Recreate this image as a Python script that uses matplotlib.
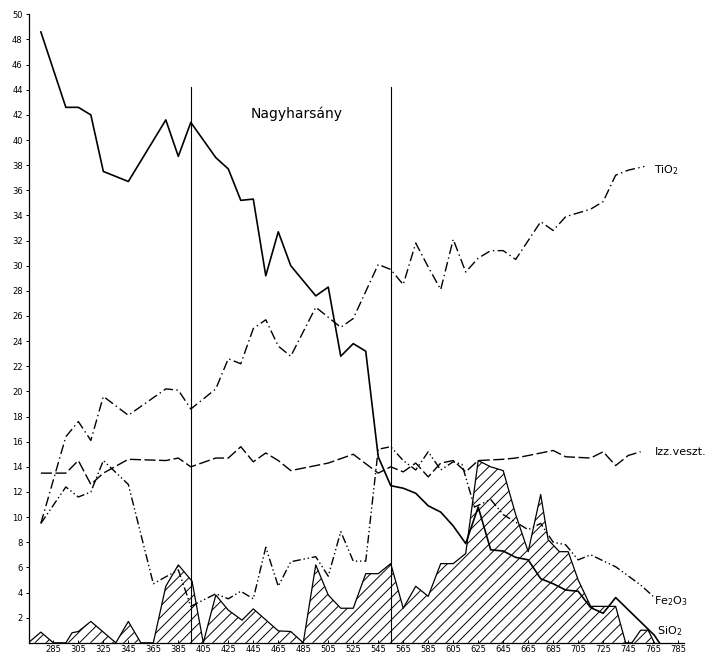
import matplotlib
matplotlib.use('Agg')
import matplotlib.pyplot as plt

# solid line (unlabelled)
main_x = [275, 295, 305, 315, 325, 345, 375, 385, 395, 415, 425, 435, 445, 455, 465,
          475, 495, 505, 515, 525, 535, 545, 555, 565, 575, 585, 595, 605, 615, 625,
          635, 645, 655, 665, 675, 685, 695, 705, 715, 725, 735, 766, 770]
main_y = [48.6, 42.6, 42.6, 42.0, 37.5, 36.7, 41.6, 38.7, 41.4, 38.6, 37.7, 35.2, 35.3, 29.2, 32.7,
          30.0, 27.6, 28.3, 22.8, 23.8, 23.2, 14.8, 12.5, 12.3, 11.9, 10.9, 10.4, 9.3, 7.9, 10.8,
          7.4, 7.3, 6.8, 6.6, 5.1, 4.7, 4.2, 4.1, 2.8, 2.35, 3.6, 0.6, 0.0]

tio2_x = [275, 295, 305, 315, 325, 345, 375, 385, 395, 415, 425, 435, 445, 455, 465,
          475, 495, 515, 525, 545, 555, 565, 575, 585, 595, 605, 615, 625, 635, 645,
          655, 675, 685, 695, 715, 725, 735, 745, 758]
tio2_y = [9.5, 16.4, 17.6, 16.1, 19.6, 18.1, 20.2, 20.1, 18.6, 20.2, 22.6, 22.2, 25.0, 25.7, 23.6,
          22.8, 26.7, 25.1, 25.8, 30.1, 29.7, 28.5, 31.8, 29.9, 28.1, 32.1, 29.5, 30.6, 31.2, 31.2,
          30.5, 33.5, 32.8, 33.9, 34.5, 35.1, 37.2, 37.6, 37.9]

izz_x = [275, 295, 305, 315, 325, 345, 375, 385, 395, 415, 425, 435, 445, 455, 465,
         475, 505, 525, 545, 555, 565, 575, 585, 595, 605, 615, 625, 645, 655, 665,
         685, 695, 715, 725, 735, 745, 755]
izz_y = [13.5, 13.5, 14.5, 12.6, 13.5, 14.6, 14.5, 14.7, 14.0, 14.7, 14.7, 15.6, 14.4, 15.1, 14.5,
         13.7, 14.3, 15.0, 13.5, 14.0, 13.6, 14.3, 13.2, 14.3, 14.5, 13.6, 14.5, 14.6, 14.7, 14.9,
         15.3, 14.8, 14.7, 15.2, 14.1, 14.9, 15.2]

fe2o3_x = [275, 295, 305, 315, 325, 345, 365, 385, 395, 415, 425, 435, 445, 455, 465,
           475, 495, 505, 515, 525, 535, 545, 555, 565, 575, 585, 595, 605, 612, 622,
           635, 645, 665, 675, 685, 695, 705, 715, 735, 755, 765]
fe2o3_y = [9.5, 12.4, 11.6, 12.0, 14.5, 12.6, 4.7, 5.8, 2.9, 3.9, 3.5, 4.1, 3.5, 7.6, 4.5,
           6.45, 6.85, 5.3, 8.85, 6.5, 6.5, 15.4, 15.6, 14.5, 13.75, 15.2, 13.75, 14.4, 14.2, 10.8,
           11.4, 10.2, 9.0, 9.5, 8.0, 7.8, 6.6, 7.0, 6.05, 4.6, 3.7]

sio2_x = [265, 275, 285, 295, 300, 305, 315, 335, 345, 355, 365, 375, 385, 396, 405,
          415, 425, 436, 445, 465, 475, 485, 495, 505, 515, 525, 535, 545, 555, 565,
          575, 585, 595, 605, 615, 625, 635, 645, 655, 665, 675, 681, 690, 697, 705,
          715, 725, 735, 743, 748, 755, 761, 766]
sio2_y = [0, 0.85, 0, 0, 0.8, 0.9, 1.7, 0, 1.7, 0, 0, 4.5, 6.2, 4.9, 0,
          3.8, 2.6, 1.8, 2.7, 0.95, 0.9, 0, 6.2, 3.8, 2.75, 2.75, 5.5, 5.5, 6.3, 2.75,
          4.5, 3.7, 6.3, 6.3, 7.1, 14.5, 14.0, 13.7, 10.2, 7.25, 11.8, 8.2, 7.25, 7.25, 5.0,
          2.9, 2.9, 2.9, 0, 0, 1.0, 1.0, 0]

divider_x = [395, 555]
divider_top = 44.2

yticks = list(range(2, 51, 2))
xticks = list(range(285, 786, 20))

plt.rcParams['hatch.linewidth'] = 0.7

fig = plt.figure(figsize=(7.07, 6.57), dpi=100)
ax = fig.add_axes([0.041, 0.0216, 0.927, 0.9566])

ax.fill_between(sio2_x, sio2_y, 0, facecolor='white', edgecolor='black',
                hatch='///', linewidth=0, zorder=1)
ax.plot(sio2_x, sio2_y, color='black', lw=0.9, zorder=2)

ax.plot(main_x, main_y, color='black', lw=1.2, zorder=3)
ax.plot(tio2_x, tio2_y, color='black', lw=1.0, linestyle=(0, (7, 2.5, 1, 2.5)), zorder=3)
ax.plot(izz_x, izz_y, color='black', lw=1.0, linestyle=(0, (8, 2.5)), zorder=3)
ax.plot(fe2o3_x, fe2o3_y, color='black', lw=1.0, linestyle=(0, (6, 2, 1, 2, 1, 2)), zorder=3)

for xv in divider_x:
    ax.plot([xv, xv], [0, divider_top], color='black', lw=0.8, zorder=4)

ax.text(480, 42.1, 'Nagyharsány', ha='center', va='center', fontsize=10)
ax.text(766, 37.6, 'TiO$_2$', ha='left', va='center', fontsize=8)
ax.text(766, 15.2, 'Izz.veszt.', ha='left', va='center', fontsize=8)
ax.text(766, 3.3, 'Fe$_2$O$_3$', ha='left', va='center', fontsize=8)
ax.text(768, 0.9, 'SiO$_2$', ha='left', va='center', fontsize=8)

ax.set_xlim(265.5, 790)
ax.set_ylim(0, 50)
ax.set_yticks(yticks)
ax.set_xticks(xticks)
ax.tick_params(axis='y', labelsize=6, length=2.5, width=0.7, direction='out', pad=2)
ax.tick_params(axis='x', labelsize=6, length=2.5, width=0.7, direction='in', pad=1.5)
for side in ['top', 'right']:
    ax.spines[side].set_visible(False)
for side in ['left', 'bottom']:
    ax.spines[side].set_linewidth(0.9)

plt.savefig('out.png', dpi=100)
